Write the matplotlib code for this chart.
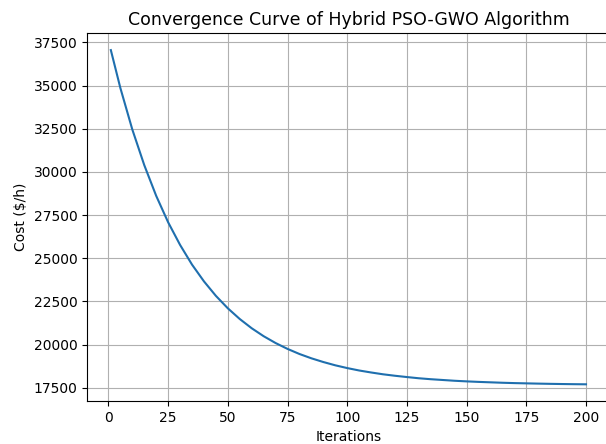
import matplotlib
matplotlib.use('Agg')
import matplotlib.pyplot as plt

# best cost per iteration
iterations = [1, 5, 10, 15, 20, 25, 30, 35, 40, 45, 50, 55, 60, 65, 70, 75, 80, 85, 90, 95,
              100, 105, 110, 115, 120, 125, 130, 135, 140, 145, 150, 155, 160, 165, 170, 175,
              180, 185, 190, 195, 200]
cost = [37050, 34850, 32450, 30390, 28610, 27080, 25770, 24630, 23660, 22820,
        22100, 21480, 20945, 20485, 20090, 19750, 19455, 19205, 18990, 18800,
        18640, 18500, 18385, 18280, 18195, 18120, 18050, 17995, 17950, 17905,
        17870, 17840, 17815, 17790, 17770, 17755, 17740, 17727, 17716, 17707,
        17700]

fig = plt.figure(figsize=(6.06, 4.44), dpi=100)
ax = fig.add_axes([0.1437, 0.0968, 0.8625, 0.828])
ax.plot(iterations, cost, color='#1f6fae')
ax.set_title('Convergence Curve of Hybrid PSO-GWO Algorithm', fontsize=12.5)
ax.set_xlabel('Iterations')
ax.set_ylabel(r'Cost (\$/h)')
ax.grid(True)

fig.savefig('out.png', dpi=100)
